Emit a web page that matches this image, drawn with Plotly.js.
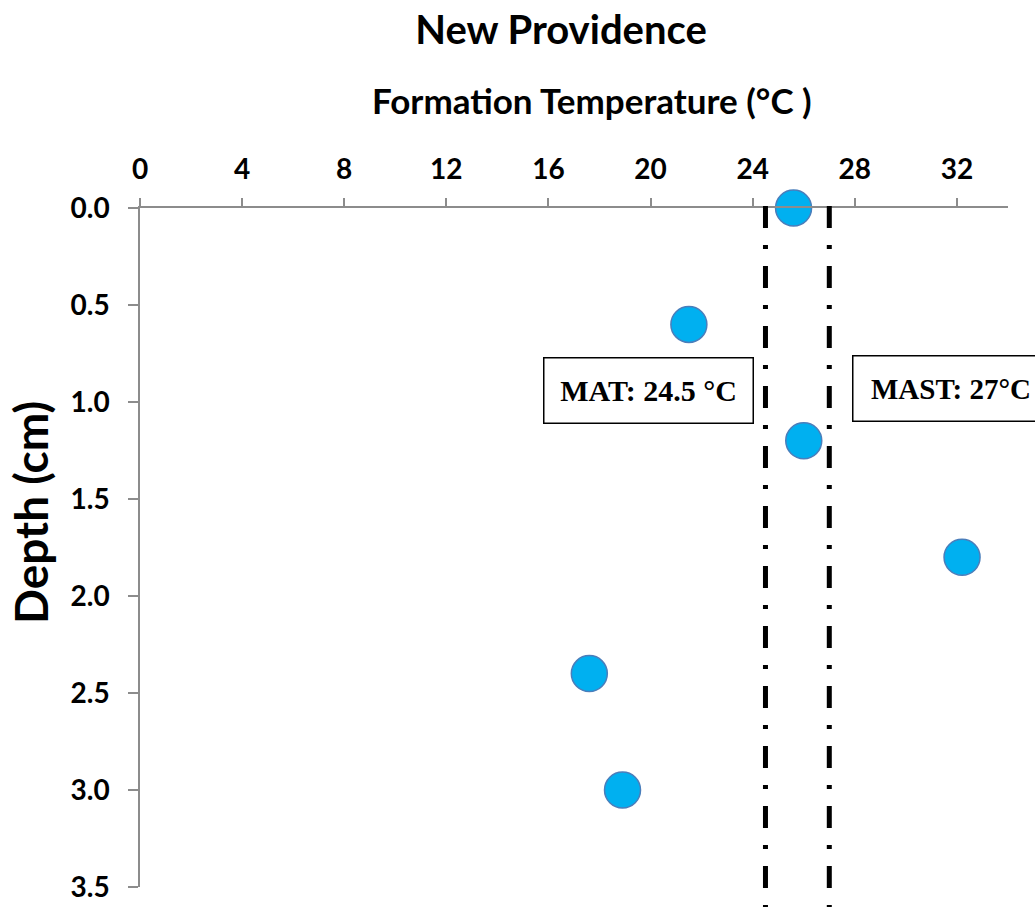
<!DOCTYPE html>
<html>
<head>
<meta charset="utf-8">
<script src="https://cdn.plot.ly/plotly-3.0.1.min.js"></script>
<style>html,body{margin:0;padding:0;background:#fff;}#chart{width:1035px;height:907px;}</style>
</head>
<body>
<div id="chart"></div>
<script>
// Data
const depthCm = [0.0, 0.6, 1.2, 1.8, 2.4, 3.0];
const formationTempC = [25.6, 21.5, 26.0, 32.2, 17.6, 18.9];
const matC = 24.5;   // mean annual temperature
const mastC = 27;    // mean annual summer temperature
const matLabel = "MAT: 24.5 °C";
const mastLabel = "MAST: 27°C";
const xTickVals = [0, 4, 8, 12, 16, 20, 24, 28, 32];
const yTickVals = [0.0, 0.5, 1.0, 1.5, 2.0, 2.5, 3.0, 3.5];

const FONT = "Lato, 'Open Sans', sans-serif";
const SERIF = "'Liberation Serif', 'DejaVu Serif', serif";

const trace = {
  x: formationTempC,
  y: depthCm,
  type: 'scatter',
  mode: 'markers',
  cliponaxis: false,
  marker: {size: 36, color: '#00B0F0', line: {color: '#4A7EBB', width: 1.5}},
  hoverinfo: 'x+y'
};

function refLine(xv) {
  return {
    type: 'line', xref: 'x', yref: 'paper',
    x0: xv, x1: xv, y0: 1.003, y1: -0.06,
    line: {color: '#000', width: 5, dash: '22px,17px,4px,17px'}
  };
}

const layout = {
  width: 1035, height: 907,
  margin: {l: 140, r: 27, t: 208, b: 20},
  paper_bgcolor: '#fff', plot_bgcolor: '#fff',
  showlegend: false,
  font: {family: FONT, color: '#000'},
  title: {
    text: '<b>New Providence</b>',
    font: {family: FONT, size: 40, color: '#000'},
    xref: 'paper', x: (561 - 140) / 868, xanchor: 'center',
    yref: 'container', y: 1 - 30/907, yanchor: 'middle'
  },
  xaxis: {
    side: 'top', range: [0, 34],
    tickmode: 'array', tickvals: xTickVals,
    ticks: 'outside', ticklen: 8, tickwidth: 1.5, tickcolor: '#8c8c8c',
    showline: true, linecolor: '#8c8c8c', linewidth: 1.5,
    showgrid: false, zeroline: false,
    tickfont: {family: FONT, size: 28, color: '#000', weight: 'bold'},
    ticklabelstandoff: 8
  },
  yaxis: {
    range: [3.5, 0],
    tickmode: 'array', tickvals: yTickVals, tickformat: '.1f',
    ticks: 'outside', ticklen: 10, tickwidth: 1.5, tickcolor: '#8c8c8c',
    showline: true, linecolor: '#8c8c8c', linewidth: 1.5,
    showgrid: false, zeroline: false,
    tickfont: {family: FONT, size: 28, color: '#000', weight: 'bold'},
    ticklabelstandoff: 13
  },
  shapes: [refLine(matC), refLine(mastC)],
  annotations: [
    {
      text: '<b>Formation Temperature (°C )</b>',
      xref: 'paper', yref: 'paper', x: (592 - 140) / 868, y: (887 - 100) / 679,
      xanchor: 'center', yanchor: 'middle', showarrow: false,
      font: {family: FONT, size: 35, color: '#000'}
    },
    {
      text: '<b>Depth (cm)</b>',
      xref: 'paper', yref: 'paper', x: (30 - 140) / 868, y: (887 - 513) / 679,
      xanchor: 'center', yanchor: 'middle', showarrow: false, textangle: -90,
      font: {family: FONT, size: 46, color: '#000'}
    },
    {
      text: '<b>' + matLabel + '</b>',
      xref: 'x', yref: 'y', x: 19.9, y: 0.94,
      xanchor: 'center', yanchor: 'middle', showarrow: false,
      width: 204, height: 60, borderpad: 2, borderwidth: 1.5, bordercolor: '#000', bgcolor: '#fff',
      font: {family: SERIF, size: 30, color: '#000'}
    },
    {
      text: '<b>' + mastLabel + '</b>',
      xref: 'x', yref: 'y', x: 31.76, y: 0.93,
      xanchor: 'center', yanchor: 'middle', showarrow: false,
      width: 191, height: 60, borderpad: 2, borderwidth: 1.5, bordercolor: '#000', bgcolor: '#fff',
      font: {family: SERIF, size: 29, color: '#000'}
    }
  ]
};

Plotly.newPlot('chart', [trace], layout, {displayModeBar: false, responsive: false});
</script>
</body>
</html>
